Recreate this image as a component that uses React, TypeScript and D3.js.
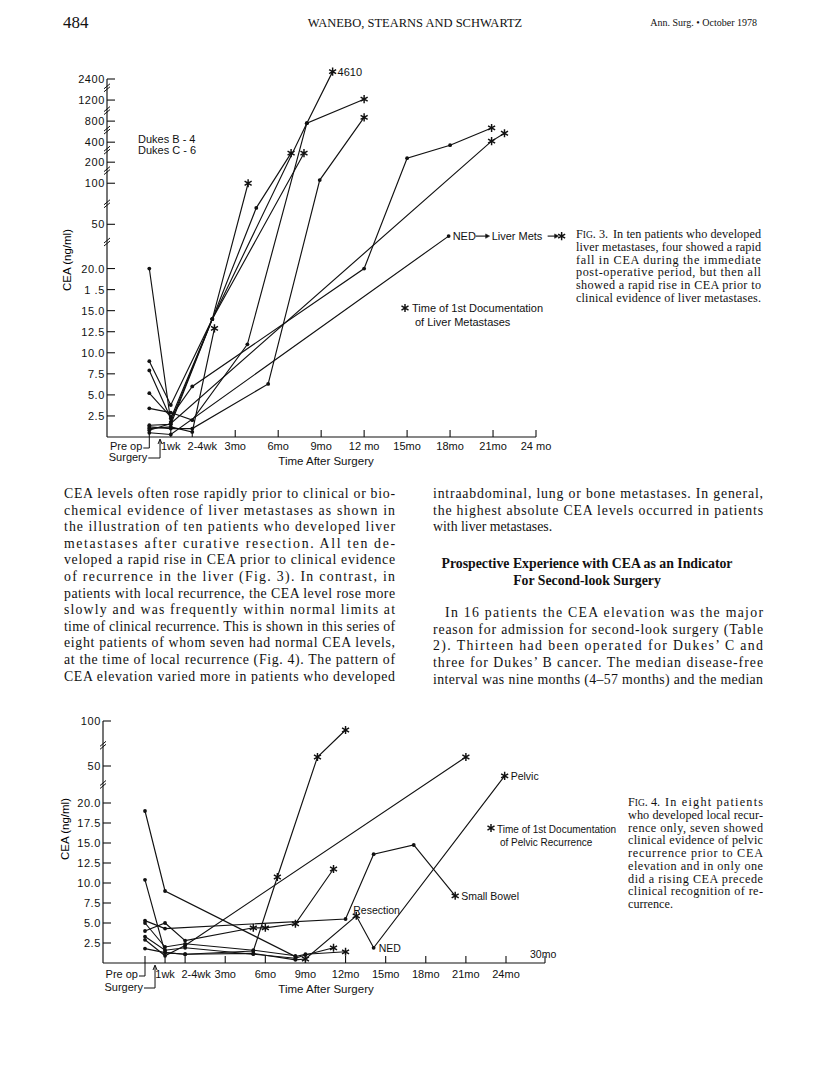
import React from 'react';
import * as d3 from 'd3';

// [months after surgery, CEA ng/ml, mark]  mark: 'd' = dot, 's' = star (1st documentation)
type Pt = [number, number, string];

const SERIF = '"Liberation Serif", "Times New Roman", serif';
const SANS = '"Liberation Sans", Arial, sans-serif';

// ---- x axis (shared) ----
const xTickMonths = [-3, -1.5, 0, 3, 6, 9, 12, 15, 18, 21, 24];
const fig3XLabels = ['', '1wk', '2-4wk', '3mo', '6mo', '9mo', '12 mo', '15mo', '18mo', '21mo', '24 mo'];
const fig4XLabels = ['', '1wk', '2-4wk', '3mo', '6mo', '9mo', '12mo', '15mo', '18mo', '21mo', '24mo'];
const surgeryMonth = -2.25;

// ---- fig 3 y axis (broken scale) ----
const fig3YTicks = [2.5, 5, 7.5, 10, 12.5, 15, 17.5, 20, 50, 100, 200, 400, 800, 1200, 2400];
const fig3YLabels = ['2.5', '5.0', '7.5', '10.0', '12.5', '15.0', '1 .5', '20.0', '50', '100', '200', '400', '800', '1200', '2400'];
const fig3SlotValues = [0, 2.5, 5, 7.5, 10, 12.5, 15, 17.5, 20, 50, 100, 200, 400, 800, 1200, 2400, 4610];
const fig3Slots = [0, 1, 2, 3, 4, 5, 6, 7, 8, 10.1, 12.05, 13.05, 14, 15, 16, 17, 17.35];
const fig3Breaks = [38, 75, 160, 320, 630, 1000, 1900];

// ---- fig 4 y axis ----
const fig4YTicks = [2.5, 5, 7.5, 10, 12.5, 15, 17.5, 20, 50, 100];
const fig4YLabels = ['2.5', '5.0', '7.5', '10.0', '12.5', '15.0', '17.5', '20.0', '50', '100'];
const fig4SlotValues = [0, 20, 50, 100];
const fig4Slots = [0, 8, 9.85, 12.1];
const fig4Breaks = [35, 73];

// ---- fig 3: ten patients with liver metastases ----
const f3p1: Pt[] = [[-3, 1.4, 'd'], [-1.5, 1.5, 'd'], [1.4, 14, 'd'], [8.0, 760, 'd'], [9.8, 4610, 's']];
const f3p2: Pt[] = [[-3, 9.0, 'd'], [-1.5, 3.8, 'd'], [1.4, 14, 'd'], [3.9, 100, 's']];
const f3p3: Pt[] = [[-3, 7.9, 'd'], [-1.5, 2.2, 'd'], [1.4, 14, 'd'], [7.8, 290, 's']];
const f3p4: Pt[] = [[-3, 20, 'd'], [-1.5, 1.8, 'd'], [1.4, 14, 'd'], [4.47, 70, 'd'], [6.9, 290, 's']];
const f3p5: Pt[] = [[-3, 3.4, 'd'], [-1.5, 2.9, 'd'], [0, 2.0, 'd'], [3.85, 11, 'd'], [8.0, 760, 'd'], [12, 1250, 's']];
const f3p6: Pt[] = [[-3, 1.2, 'd'], [-1.5, 1.0, 'd'], [0, 1.0, 'd'], [5.3, 6.3, 'd'], [8.9, 115, 'd'], [12, 870, 's']];
const f3p7: Pt[] = [[-3, 5.2, 'd'], [-1.5, 2.4, 'd'], [0, 6.0, 'd'], [12, 20, 'd'], [15, 240, 'd'], [18, 370, 'd'], [20.9, 670, 's']];
const f3p8: Pt[] = [[-3, 0.8, 'd'], [-1.5, 1.6, 'd'], [20.9, 420, 's'], [21.8, 570, 's']];
const f3p9: Pt[] = [[-3, 0.5, 'd'], [-1.5, 0.3, 'd'], [17.9, 42, 'd']];
const f3p10: Pt[] = [[-3, 1.0, 'd'], [-1.5, 1.2, 'd'], [0, 0.6, 'd'], [1.55, 12.9, 's']];
const fig3Series = [f3p1, f3p2, f3p3, f3p4, f3p5, f3p6, f3p7, f3p8, f3p9, f3p10];

// ---- fig 4: eight patients with local recurrence ----
const f4p1: Pt[] = [[-3, 19, 'd'], [-1.5, 9.0, 'd'], [8.25, 0.8, 'd'], [9, 1.1, 'd'], [12, 1.4, 's']];
const f4p2: Pt[] = [[-3, 10.4, 'd'], [-1.5, 1.3, 'd'], [0, 1.1, 'd'], [5.1, 1.2, 'd'], [8.25, 0.4, 'd'], [9, 0.5, 's'], [12.8, 5.9, 's'], [14.1, 1.9, 'd'], [23.9, 42, 's']];
const f4p3: Pt[] = [[-3, 5.3, 'd'], [-1.5, 4.3, 'd'], [12, 5.5, 'd'], [14.1, 13.6, 'd'], [17.1, 14.75, 'd'], [20.2, 8.4, 's']];
const f4p4: Pt[] = [[-3, 4.0, 'd'], [-1.5, 5.0, 'd'], [0, 2.8, 'd'], [5.1, 4.4, 's'], [6.0, 4.4, 's'], [8.25, 4.9, 's'], [11.1, 11.75, 's']];
const f4p5: Pt[] = [[-3, 3.3, 'd'], [-1.5, 1.6, 'd'], [0, 1.9, 'd'], [5.1, 1.1, 'd'], [8.25, 0.6, 'd'], [9, 1.0, 'd'], [11.1, 1.9, 's']];
const f4p6: Pt[] = [[-3, 2.9, 'd'], [-1.5, 0.9, 'd'], [0, 2.2, 'd'], [21, 60, 's']];
const f4p7: Pt[] = [[-3, 1.8, 'd'], [-1.5, 1.3, 'd'], [0, 1.1, 'd'], [5.1, 1.5, 'd'], [6.9, 10.75, 's'], [9.9, 60, 's'], [12, 90, 's']];
const f4p8: Pt[] = [[-3, 5.0, 'd'], [-1.5, 2.0, 'd'], [0, 2.4, 'd'], [5.1, 1.6, 'd'], [8.25, 0.9, 'd']];
const fig4Series = [f4p1, f4p2, f4p3, f4p4, f4p5, f4p6, f4p7, f4p8];

// ---- page text ----
const fig3Caption = [
  'In ten patients who developed',
  'liver metastases, four showed a rapid',
  'fall in CEA during the immediate',
  'post-operative period, but then all',
  'showed a rapid rise in CEA prior to',
  'clinical evidence of liver metastases.',
];
const fig4Caption = [
  'In eight patients',
  'who developed local recur-',
  'rence only, seven showed',
  'clinical evidence of pelvic',
  'recurrence prior to CEA',
  'elevation and in only one',
  'did a rising CEA precede',
  'clinical recognition of re-',
  'currence.',
];
const leftColumn = [
  'CEA levels often rose rapidly prior to clinical or bio-',
  'chemical evidence of liver metastases as shown in',
  'the illustration of ten patients who developed liver',
  'metastases after curative resection. All ten de-',
  'veloped a rapid rise in CEA prior to clinical evidence',
  'of recurrence in the liver (Fig. 3). In contrast, in',
  'patients with local recurrence, the CEA level rose more',
  'slowly and was frequently within normal limits at',
  'time of clinical recurrence. This is shown in this series of',
  'eight patients of whom seven had normal CEA levels,',
  'at the time of local recurrence (Fig. 4). The pattern of',
  'CEA elevation varied more in patients who developed',
];
const rightTop = [
  'intraabdominal, lung or bone metastases. In general,',
  'the highest absolute CEA levels occurred in patients',
  'with liver metastases.',
];
const heading = ['Prospective Experience with CEA as an Indicator', 'For Second-look Surgery'];
const rightBottom = [
  'In 16 patients the CEA elevation was the major',
  'reason for admission for second-look surgery (Table',
  '2). Thirteen had been operated for Dukes\u2019 C and',
  'three for Dukes\u2019 B cancer. The median disease-free',
  'interval was nine months (4\u201357 months) and the median',
];

const starPath = d3.symbol().type(d3.symbolAsterisk).size(46)() as string;
const lineGen = (x: (v: number) => number, y: (v: number) => number) =>
  d3.line<Pt>().x(d => x(d[0])).y(d => y(d[1]));

function Star({ cx, cy }: { cx: number; cy: number }) {
  return <path d={starPath} transform={`translate(${cx},${cy})`} fill="none" stroke="#111" strokeWidth={1.45} />;
}

function Marks({ series, x, y }: { series: Pt[][]; x: any; y: any }) {
  const line = lineGen(x, y);
  return (
    <g>
      {series.map((s, i) => (
        <path key={'l' + i} d={line(s) as string} fill="none" stroke="#111" strokeWidth={1.15} />
      ))}
      {series.map((s, i) =>
        s.map((p, j) =>
          p[2] === 's' ? (
            <Star key={`s${i}-${j}`} cx={x(p[0])} cy={y(p[1])} />
          ) : (
            <circle key={`d${i}-${j}`} cx={x(p[0])} cy={y(p[1])} r={1.9} fill="#111" />
          )
        )
      )}
    </g>
  );
}

function YAxis({ ax, y, top, base, ticks, labels, breaks }: any) {
  return (
    <g fontFamily={SANS} fontSize={11} fill="#111">
      <line x1={ax} x2={ax} y1={base} y2={top} stroke="#111" strokeWidth={1.15} />
      {ticks.map((t: number, i: number) => (
        <g key={t}>
          <line x1={ax} x2={ax + 8} y1={y(t)} y2={y(t)} stroke="#111" strokeWidth={1.1} />
          <text x={ax - 2} y={y(t) + 4} textAnchor="end" letterSpacing={0.6}>{labels[i]}</text>
        </g>
      ))}
      {breaks.map((b: number) => (
        <g key={'b' + b} stroke="#111" strokeWidth={1}>
          <line x1={ax - 3} y1={y(b) + 1} x2={ax + 3} y2={y(b) - 4} />
          <line x1={ax - 3} y1={y(b) + 4} x2={ax + 3} y2={y(b) - 1} />
        </g>
      ))}
    </g>
  );
}

function XAxis({ ax, x, base, right, labels, labelY, twoFourDx, preY, surgY, titleY, extraTicks }: any) {
  const ticks = [...xTickMonths, ...(extraTicks || [])];
  const px = x(-3);
  const sx = x(surgeryMonth);
  return (
    <g fontFamily={SANS} fontSize={11} fill="#111">
      <line x1={ax} x2={right} y1={base} y2={base} stroke="#111" strokeWidth={1.15} />
      {ticks.map((t: number) => (
        <line key={t} x1={x(t)} x2={x(t)} y1={base} y2={base - 7} stroke="#111" strokeWidth={1.1} />
      ))}
      {labels.map((l: string, i: number) =>
        l ? (
          <text key={l} x={x(xTickMonths[i]) + (l === '2-4wk' ? twoFourDx : 0)} y={labelY} textAnchor="middle">{l}</text>
        ) : null
      )}
      {/* pre op bracket */}
      <text x={px - 7} y={preY} textAnchor="end">Pre op</text>
      <polyline points={`${px - 6},${preY - 2} ${px},${preY - 2} ${px},${base}`} fill="none" stroke="#111" strokeWidth={1} />
      {/* surgery bracket with arrow */}
      <text x={px - 2} y={surgY} textAnchor="end">Surgery</text>
      <polyline points={`${px - 1},${surgY - 3} ${sx},${surgY - 3} ${sx},${base + 3}`} fill="none" stroke="#111" strokeWidth={1} />
      <path d={`M${sx - 2},${base + 7} L${sx},${base + 2} L${sx + 2},${base + 7}`} fill="none" stroke="#111" strokeWidth={1} />
      <text x={326} y={titleY} textAnchor="middle" fontSize={11.5}>Time After Surgery</text>
    </g>
  );
}

function Arrow({ x1, x2, y }: { x1: number; x2: number; y: number }) {
  return (
    <g stroke="#111" fill="#111">
      <line x1={x1} x2={x2 - 3} y1={y} y2={y} strokeWidth={1.1} />
      <path d={`M${x2 - 4},${y - 2.2} L${x2},${y} L${x2 - 4},${y + 2.2} Z`} strokeWidth={0.5} />
    </g>
  );
}

function Figure3() {
  const x = d3.scaleLinear().domain([-3, 24]).range([149.3, 536]);
  const slotPx = d3.scaleLinear().domain([0, 17]).range([437, 79]);
  const y = d3.scaleLinear().domain(fig3SlotValues).range(fig3Slots.map(s => slotPx(s)));
  const ned = f3p9[f3p9.length - 1];
  const top = f3p1[f3p1.length - 1];
  return (
    <g>
      <YAxis ax={107} y={y} top={y(2400)} base={437} ticks={fig3YTicks} labels={fig3YLabels} breaks={fig3Breaks} />
      <XAxis ax={107} x={x} base={437} right={x(24)} labels={fig3XLabels} labelY={450} twoFourDx={10}
        preY={450} surgY={461} titleY={465} />
      <text transform="translate(71,260) rotate(-90)" textAnchor="middle" fontFamily={SANS} fontSize={11.5}>CEA (ng/ml)</text>
      <Marks series={fig3Series} x={x} y={y} />
      <g fontFamily={SANS} fontSize={11} fill="#111">
        <text x={138} y={143}>Dukes B - 4</text>
        <text x={138} y={154}>Dukes C - 6</text>
        <text x={x(top[0]) + 5} y={y(top[1]) + 4}>4610</text>
        <text x={x(ned[0]) + 4} y={y(ned[1]) + 4}>NED</text>
        <Arrow x1={x(ned[0]) + 27} x2={x(ned[0]) + 41} y={y(ned[1])} />
        <text x={x(ned[0]) + 43} y={y(ned[1]) + 4}>Liver Mets</text>
        <Arrow x1={x(ned[0]) + 99} x2={x(ned[0]) + 110} y={y(ned[1])} />
        <Star cx={x(ned[0]) + 113} cy={y(ned[1])} />
        <Star cx={405} cy={308} />
        <text x={412} y={312}>Time of 1st Documentation</text>
        <text x={415} y={326}>of Liver Metastases</text>
      </g>
    </g>
  );
}

function Figure4() {
  const x = d3.scaleLinear().domain([-3, 24, 30]).range([145, 506, 545]);
  const slotPx = d3.scaleLinear().domain([0, 8]).range([963, 803]);
  const y = d3.scaleLinear().domain(fig4SlotValues).range(fig4Slots.map(s => slotPx(s)));
  const p2 = f4p2;
  const resection = p2[6];
  const ned = p2[7];
  const pelvic = p2[8];
  const bowel = f4p3[f4p3.length - 1];
  return (
    <g>
      <YAxis ax={103} y={y} top={y(100)} base={963} ticks={fig4YTicks} labels={fig4YLabels} breaks={fig4Breaks} />
      <XAxis ax={103} x={x} base={963} right={x(30)} labels={fig4XLabels} labelY={978} twoFourDx={11}
        preY={978} surgY={991} titleY={993} extraTicks={[30]} />
      <text transform="translate(69,829) rotate(-90)" textAnchor="middle" fontFamily={SANS} fontSize={11.5}>CEA (ng/ml)</text>
      <Marks series={fig4Series} x={x} y={y} />
      <g fontFamily={SANS} fontSize={10.5} fill="#111">
        <text x={x(30) - 15} y={958}>30mo</text>
        <text x={x(pelvic[0]) + 6} y={y(pelvic[1]) + 4}>Pelvic</text>
        <text x={x(bowel[0]) + 6} y={y(bowel[1]) + 4}>Small Bowel</text>
        <text x={x(resection[0]) - 3} y={y(resection[1]) - 2}>Resection</text>
        <text x={x(ned[0]) + 5} y={y(ned[1]) + 4}>NED</text>
        <Star cx={491} cy={828} />
        <text x={497} y={833} fontSize={10}>Time of 1st Documentation</text>
        <text x={500} y={846} fontSize={10}>of Pelvic Recurrence</text>
      </g>
    </g>
  );
}

function Caption({ x, y0, w, lead, lines, step }: any) {
  return (
    <g fontFamily={SERIF} fontSize={12.2} fill="#111">
      {lines.map((l: string, i: number) => {
        const last = i === lines.length - 1 && l.length < 20;
        const fit = last ? {} : { textLength: i === 0 ? w - 37 : w, lengthAdjust: 'spacing' };
        return (
          <text key={i} x={i === 0 ? x + 37 : x} y={y0 + i * step} {...fit}>{l}</text>
        );
      })}
      <text x={x} y={y0}>F<tspan fontSize={9.5}>IG</tspan>. {lead}.</text>
    </g>
  );
}

function Column({ x, y0, w, lines, step, lastRagged, indent }: any) {
  return (
    <g fontFamily={SERIF} fontSize={13.8} fill="#111">
      {lines.map((l: string, i: number) => {
        const ragged = lastRagged && i === lines.length - 1;
        const ind = indent && i === 0 ? indent : 0;
        const fit = ragged ? {} : { textLength: w - ind, lengthAdjust: 'spacing' };
        return <text key={i} x={x + ind} y={y0 + i * step} {...fit}>{l}</text>;
      })}
    </g>
  );
}

export default function App() {
  return (
    <svg width={816} height={1081} viewBox="0 0 816 1081"
      style={{ position: 'absolute', left: 0, top: 0, background: '#fff' }}>
      <rect width={816} height={1081} fill="#fff" />
      {/* running head */}
      <text x={63} y={28} fontFamily={SERIF} fontSize={17} fill="#111">484</text>
      <text x={415} y={27} textAnchor="middle" fontFamily={SERIF} fontSize={12.5} fill="#111">WANEBO, STEARNS AND SCHWARTZ</text>
      <text x={757} y={26} textAnchor="end" fontFamily={SERIF} fontSize={10} fill="#111">Ann. Surg. {'\u2022'} October 1978</text>

      <Figure3 />
      <Caption x={576} y0={238} w={185} lead="3" lines={fig3Caption} step={12.8} />

      <Column x={64} y0={498} w={331} lines={leftColumn} step={16.6} />
      <Column x={433} y0={498} w={330} lines={rightTop} step={16.6} lastRagged />
      <g fontFamily={SERIF} fontSize={13.8} fontWeight="bold" fill="#111" textAnchor="middle">
        <text x={587} y={568}>{heading[0]}</text>
        <text x={587} y={585}>{heading[1]}</text>
      </g>
      <Column x={433} y0={617} w={330} lines={rightBottom} step={16.7} indent={12} />

      <Figure4 />
      <Caption x={628} y0={806} w={135} lead="4" lines={fig4Caption} step={12.75} />
    </svg>
  );
}
